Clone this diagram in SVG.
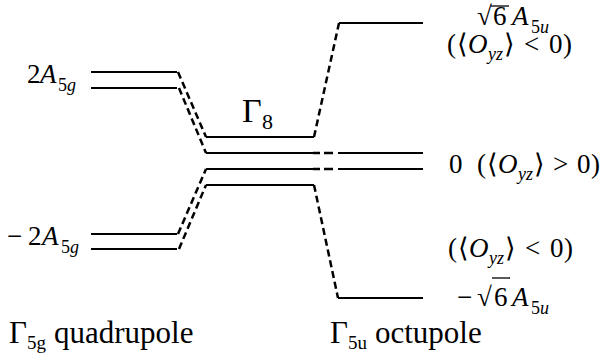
<svg xmlns="http://www.w3.org/2000/svg" width="602" height="362" viewBox="0 0 602 362">
<rect width="602" height="362" fill="#fff"/>
<g id="quad-upper">
<line x1="91" y1="72" x2="177" y2="72" stroke="#000" stroke-width="2"/>
<line x1="91" y1="88" x2="177" y2="88" stroke="#000" stroke-width="2"/>
<text x="27" y="83" font-size="27" font-family="Liberation Serif">2</text>
<text x="40" y="83" font-size="27" font-family="Liberation Serif" font-style="italic">A</text>
<text x="58" y="91" font-size="18" font-family="Liberation Serif">5</text>
<text x="67" y="91" font-size="18" font-family="Liberation Serif" font-style="italic">g</text>
</g>
<g id="quad-lower">
<line x1="91" y1="234" x2="177" y2="234" stroke="#000" stroke-width="2"/>
<line x1="91" y1="249" x2="177" y2="249" stroke="#000" stroke-width="2"/>
<text x="7" y="245" font-size="27" font-family="Liberation Serif">−</text>
<text x="28" y="245" font-size="27" font-family="Liberation Serif">2</text>
<text x="42" y="245" font-size="27" font-family="Liberation Serif" font-style="italic">A</text>
<text x="61" y="253" font-size="18" font-family="Liberation Serif">5</text>
<text x="70" y="253" font-size="18" font-family="Liberation Serif" font-style="italic">g</text>
</g>
<g id="gamma8">
<line x1="206" y1="137" x2="314" y2="137" stroke="#000" stroke-width="2"/>
<line x1="206" y1="153" x2="313" y2="153" stroke="#000" stroke-width="2"/>
<line x1="206" y1="169" x2="313" y2="169" stroke="#000" stroke-width="2"/>
<line x1="206" y1="185" x2="314" y2="185" stroke="#000" stroke-width="2"/>
<text x="242" y="122" font-size="34" font-family="Liberation Serif">Γ</text>
<text x="262" y="129" font-size="22" font-family="Liberation Serif">8</text>
</g>
<g id="oct-upper">
<line x1="339" y1="23" x2="423" y2="23" stroke="#000" stroke-width="2"/>
<text x="477" y="25" font-size="27" font-family="Liberation Serif">√</text>
<line x1="491" y1="6" x2="509" y2="6" stroke="#000" stroke-width="1.3"/>
<text x="493" y="25" font-size="27" font-family="Liberation Serif">6</text>
<text x="512" y="25" font-size="27" font-family="Liberation Serif" font-style="italic">A</text>
<text x="531" y="33" font-size="18" font-family="Liberation Serif">5</text>
<text x="540" y="33" font-size="18" font-family="Liberation Serif" font-style="italic">u</text>
<text x="447 457" y="53" font-size="27" font-family="Liberation Serif">(⟨</text>
<text x="468" y="53" font-size="27" font-family="Liberation Serif" font-style="italic">O</text>
<text x="488" y="60" font-size="18" font-family="Liberation Serif" font-style="italic">yz</text>
<text x="504 524 549 563" y="53" font-size="27" font-family="Liberation Serif">⟩&lt;0)</text>
</g>
<g id="oct-middle">
<line x1="338" y1="153" x2="423" y2="153" stroke="#000" stroke-width="2"/>
<line x1="338" y1="169" x2="423" y2="169" stroke="#000" stroke-width="2"/>
<text x="449" y="173" font-size="27" font-family="Liberation Serif">0</text>
<text x="477 487" y="173" font-size="27" font-family="Liberation Serif">(⟨</text>
<text x="498" y="173" font-size="27" font-family="Liberation Serif" font-style="italic">O</text>
<text x="518" y="180" font-size="18" font-family="Liberation Serif" font-style="italic">yz</text>
<text x="534 553 577 591" y="173" font-size="27" font-family="Liberation Serif">⟩&gt;0)</text>
</g>
<g id="oct-lower">
<line x1="338" y1="298" x2="423" y2="298" stroke="#000" stroke-width="2"/>
<text x="448 458" y="257" font-size="27" font-family="Liberation Serif">(⟨</text>
<text x="469" y="257" font-size="27" font-family="Liberation Serif" font-style="italic">O</text>
<text x="489" y="264" font-size="18" font-family="Liberation Serif" font-style="italic">yz</text>
<text x="505 525 550 564" y="257" font-size="27" font-family="Liberation Serif">⟩&lt;0)</text>
<text x="457" y="306" font-size="27" font-family="Liberation Serif">−</text>
<text x="477" y="306" font-size="27" font-family="Liberation Serif">√</text>
<line x1="492" y1="278" x2="510" y2="278" stroke="#000" stroke-width="1.3"/>
<text x="494" y="306" font-size="27" font-family="Liberation Serif">6</text>
<text x="512" y="306" font-size="27" font-family="Liberation Serif" font-style="italic">A</text>
<text x="531" y="314" font-size="18" font-family="Liberation Serif">5</text>
<text x="540" y="314" font-size="18" font-family="Liberation Serif" font-style="italic">u</text>
</g>
<g id="label-quadrupole">
<text x="9" y="343" font-size="31" font-family="Liberation Serif">Γ</text>
<text x="27" y="349" font-size="19" font-family="Liberation Serif">5g</text>
<text x="54" y="343" font-size="31" font-family="Liberation Serif">quadrupole</text>
</g>
<g id="label-octupole">
<text x="330" y="343" font-size="31" font-family="Liberation Serif">Γ</text>
<text x="348" y="349" font-size="19" font-family="Liberation Serif">5u</text>
<text x="375" y="343" font-size="31" font-family="Liberation Serif">octupole</text>
</g>
<g id="connectors" stroke="#000" stroke-width="2.5" fill="none" stroke-dasharray="7 4">
<line x1="178" y1="72" x2="206" y2="137"/>
<line x1="179" y1="88" x2="206" y2="153"/>
<line x1="178" y1="234" x2="206" y2="169"/>
<line x1="179" y1="249" x2="206" y2="185"/>
<line x1="314" y1="137" x2="339" y2="23"/>
<line x1="314" y1="185" x2="338" y2="298"/>
<line x1="313" y1="153" x2="338" y2="153" stroke-dasharray="7 4 9 5"/>
<line x1="313" y1="169" x2="338" y2="169" stroke-dasharray="7 4 9 5"/>
</g>
</svg>
